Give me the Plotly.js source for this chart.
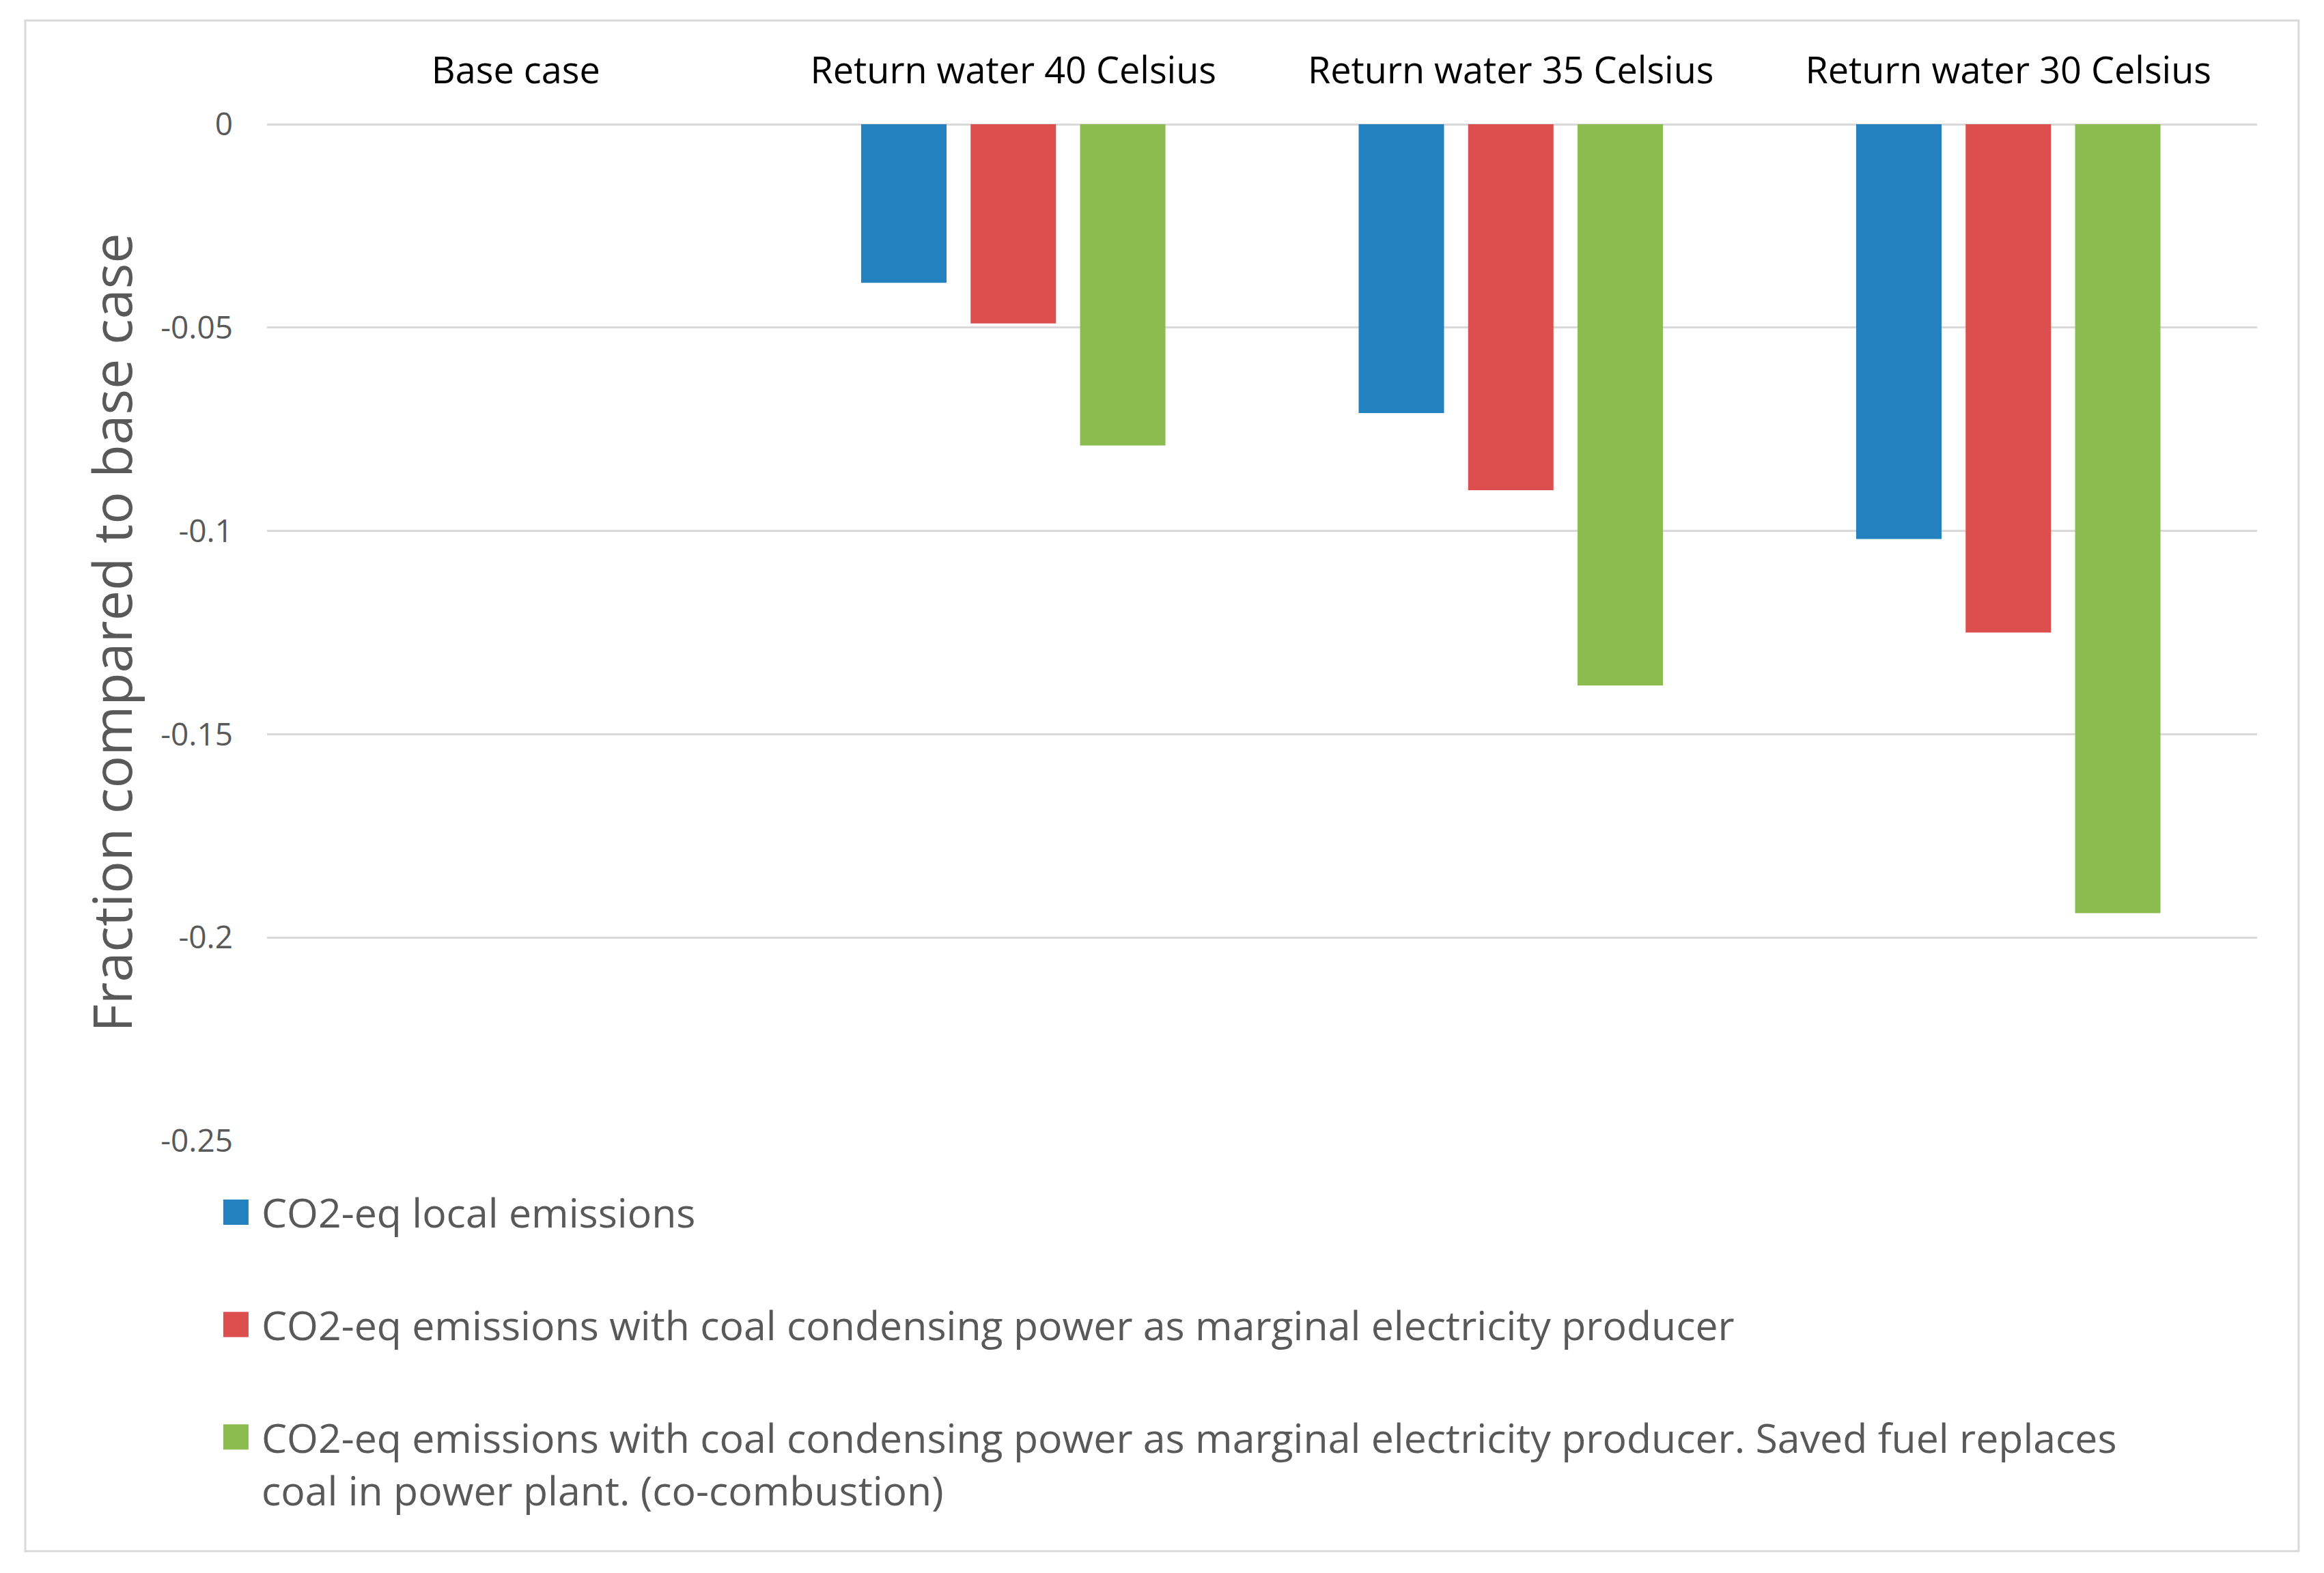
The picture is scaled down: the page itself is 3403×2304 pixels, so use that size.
<!DOCTYPE html>
<html>
<head>
<meta charset="utf-8">
<script src="https://cdn.plot.ly/plotly-3.0.1.min.js"></script>
<style>
html,body{margin:0;padding:0;background:#fff;}
#chart{width:3403px;height:2304px;}
/* Excel-style square legend keys */
#chart .legend .legendpoints path { d: path("M16,18.5H-21V-18.5H16Z"); stroke-width: 0 !important; }
</style>
</head>
<body>
<div id="chart"></div>
<script>
const categories = ["Base case", "Return water 40 Celsius", "Return water 35 Celsius", "Return water 30 Celsius"];
const seriesNames = [
  "CO2-eq local emissions",
  "CO2-eq emissions with coal condensing power as marginal electricity producer",
  "CO2-eq emissions with coal condensing power as marginal electricity producer. Saved fuel replaces<br>coal in power plant. (co-combustion)"
];
const localEmissions = [0, -0.039, -0.071, -0.102];
const coalMarginal = [0, -0.049, -0.090, -0.125];
const coalCoCombustion = [0, -0.079, -0.138, -0.194];
const seriesColors = ["#2481C0", "#DD4F4F", "#8CBC4F"];
const yTickVals = [0, -0.05, -0.1, -0.15, -0.2, -0.25];
const yTickText = ["0", "-0.05", "-0.1", "-0.15", "-0.2", "-0.25"];
const yTitle = "Fraction compared to base case";

const FONT = "Open Sans, Noto Sans, sans-serif";
const seriesValues = [localEmissions, coalMarginal, coalCoCombustion];
const traces = seriesValues.map((vals, i) => ({
  type: "bar",
  x: categories,
  y: vals,
  name: seriesNames[i],
  legendgroup: "g" + i,
  marker: {color: seriesColors[i]},
  hoverinfo: "x+y+name"
}));

const layout = {
  width: 3403,
  height: 2304,
  paper_bgcolor: "#ffffff",
  plot_bgcolor: "#ffffff",
  margin: {l: 391, r: 98, t: 182, b: 633},
  barmode: "group",
  bargap: 0.34,
  bargroupgap: 0.22,
  font: {family: FONT, color: "#595959"},
  xaxis: {
    side: "top",
    type: "category",
    showgrid: false,
    showline: false,
    zeroline: false,
    ticks: "",
    tickfont: {size: 54, color: "#000000", family: FONT},
    ticklabelstandoff: 48
  },
  yaxis: {
    range: [-0.25, 0],
    tickvals: yTickVals,
    ticktext: yTickText,
    showgrid: true,
    gridcolor: "#d9d9d9",
    gridwidth: 3,
    zeroline: true,
    zerolinecolor: "#d9d9d9",
    zerolinewidth: 3,
    showline: false,
    ticks: "",
    ticklabelstandoff: 49,
    tickfont: {size: 46, color: "#595959", family: FONT},
    title: {text: yTitle, font: {size: 79, color: "#595959", family: FONT}, standoff: 15}
  },
  showlegend: true,
  legend: {
    orientation: "v",
    x: -0.0268,
    xanchor: "left",
    y: -0.04,
    yanchor: "top",
    valign: "top",
    traceorder: "grouped",
    tracegroupgap: 85,
    font: {size: 59, color: "#595959", family: FONT},
    bgcolor: "rgba(0,0,0,0)",
    itemwidth: 60
  },
  shapes: [{
    type: "rect",
    xref: "paper", yref: "paper",
    x0: -0.1215, x1: 1.0209, y0: -0.4036, y1: 1.1021,
    line: {color: "#d9d9d9", width: 3},
    fillcolor: "rgba(0,0,0,0)",
    layer: "below"
  }]
};

function enlargeKeys(gd) {
  gd.querySelectorAll(".legend .legendpoints path").forEach(p => {
    p.setAttribute("d", "M16,18.5H-21V-18.5H16Z");
    p.style.strokeWidth = "0px";
  });
}

Plotly.newPlot("chart", traces, layout, {staticPlot: true}).then(gd => {
  enlargeKeys(gd);
  gd.on("plotly_afterplot", () => enlargeKeys(gd));
  setTimeout(() => enlargeKeys(gd), 50);
});
</script>
</body>
</html>
